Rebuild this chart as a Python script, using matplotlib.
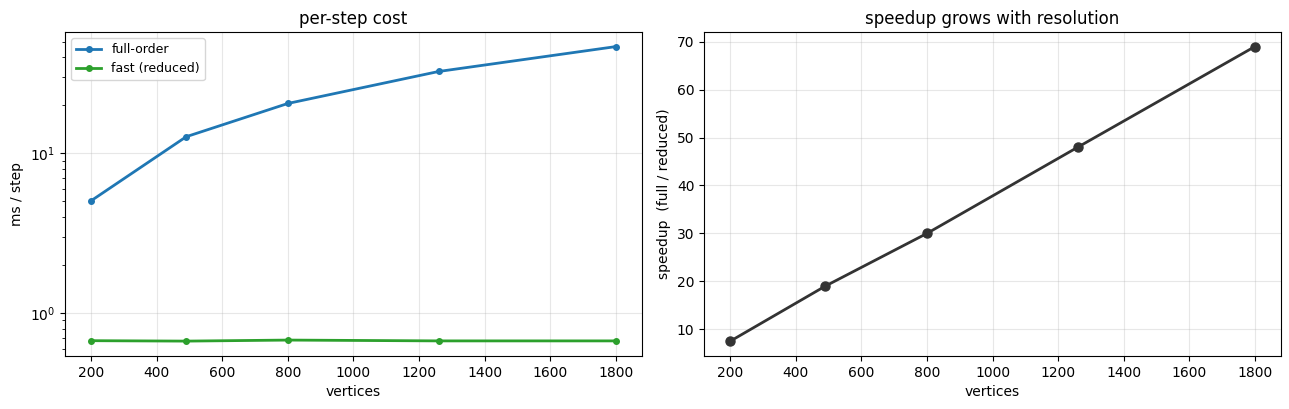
import matplotlib
matplotlib.use("Agg")
import matplotlib.pyplot as plt

vertices = [200, 490, 800, 1260, 1800]
full_ms = [5.05, 12.7, 20.5, 32.5, 46.5]
fast_ms = [0.672, 0.668, 0.678, 0.670, 0.670]
speedup = [7.5, 19.0, 30.0, 48.0, 69.0]

fig, (ax1, ax2) = plt.subplots(1, 2, figsize=(12.89, 4.09), dpi=100)
fig.subplots_adjust(left=0.0504, right=0.9938, top=0.922, bottom=0.130, wspace=0.108)

ax1.plot(vertices, full_ms, marker='o', ms=4, lw=2, color='#1f77b4', label='full-order')
ax1.plot(vertices, fast_ms, marker='o', ms=4, lw=2, color='#2ca02c', label='fast (reduced)')
ax1.set_yscale('log')
ax1.set_xlabel('vertices')
ax1.set_ylabel('ms / step')
ax1.set_title('per-step cost')
ax1.grid(True, alpha=0.3)
ax1.legend(fontsize=9, loc='upper left')

ax2.plot(vertices, speedup, marker='o', ms=6.5, lw=2, color='#333333')
ax2.set_xlabel('vertices')
ax2.set_ylabel('speedup  (full / reduced)')
ax2.set_title('speedup grows with resolution')
ax2.grid(True, alpha=0.3)

fig.savefig('out.png', dpi=100)
